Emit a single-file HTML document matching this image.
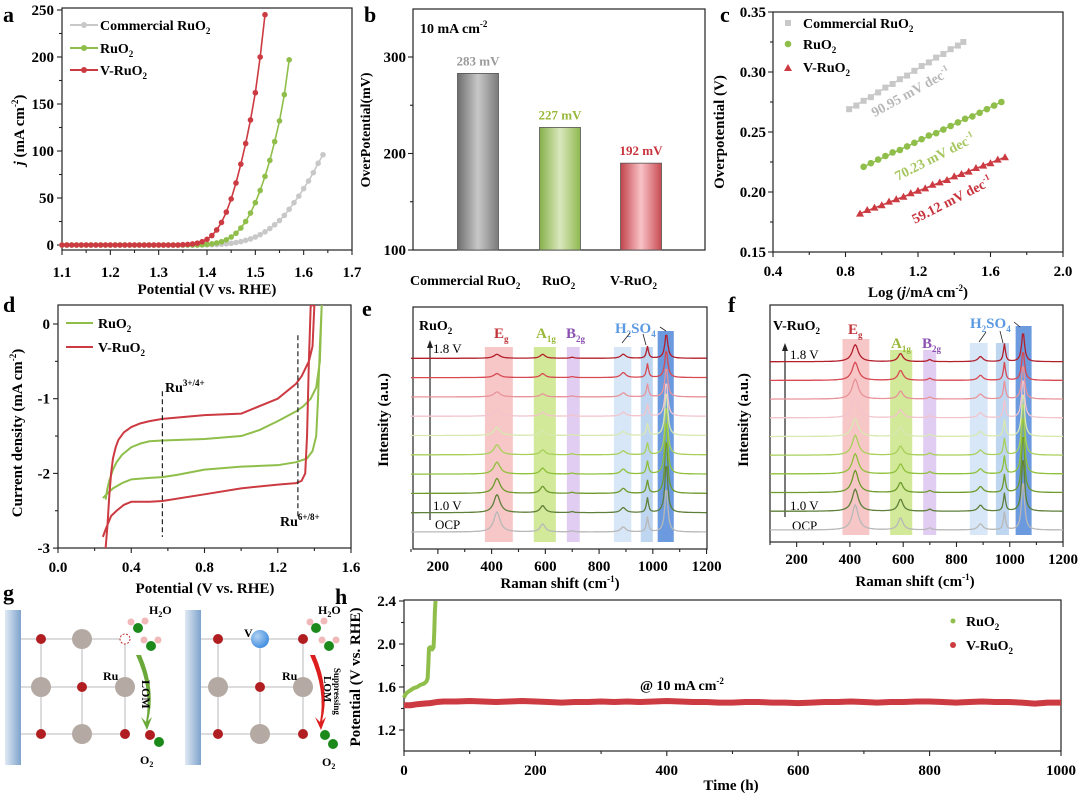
<!DOCTYPE html>
<html><head><meta charset="utf-8"><style>
html,body{margin:0;padding:0;background:#fff}
svg{display:block;font-family:"Liberation Serif",serif;font-weight:bold}
</style></head><body>
<svg id="fig" xmlns="http://www.w3.org/2000/svg" width="1080" height="797" viewBox="0 0 1080 797">
<defs>
<linearGradient id="gGrey" x1="0" x2="1"><stop offset="0" stop-color="#6e6e6e"/><stop offset="0.5" stop-color="#c8c8c8"/><stop offset="1" stop-color="#7a7a7a"/></linearGradient>
<linearGradient id="gGreen" x1="0" x2="1"><stop offset="0" stop-color="#86b04a"/><stop offset="0.5" stop-color="#d9e8bc"/><stop offset="1" stop-color="#8fb850"/></linearGradient>
<linearGradient id="gRed" x1="0" x2="1"><stop offset="0" stop-color="#c2434b"/><stop offset="0.5" stop-color="#f9c3c7"/><stop offset="1" stop-color="#c84a52"/></linearGradient>
<linearGradient id="gWall" x1="0" x2="1"><stop offset="0" stop-color="#dfe9f4"/><stop offset="1" stop-color="#7ea3cc"/></linearGradient>
<radialGradient id="gBall" cx="0.35" cy="0.35" r="0.7"><stop offset="0" stop-color="#fff" stop-opacity="0.6"/><stop offset="1" stop-color="#fff" stop-opacity="0"/></radialGradient>
</defs>

<text x="3" y="22" font-size="22">a</text>
<text x="364" y="22" font-size="22">b</text>
<text x="720" y="22" font-size="22">c</text>
<text x="3" y="312" font-size="22">d</text>
<text x="362" y="316" font-size="22">e</text>
<text x="728" y="312" font-size="22">f</text>
<text x="3" y="600" font-size="22">g</text>
<text x="335" y="604" font-size="22">h</text>

<g>
<rect x="62" y="8" width="290" height="242" fill="none" stroke="#222" stroke-width="1.2"/>
<text transform="translate(24,130) rotate(-90)" text-anchor="middle" font-size="15"><tspan font-style="italic">j</tspan> (mA cm<tspan font-size="9" dy="-6">-2</tspan><tspan dy="6">)</tspan></text>
<text x="207" y="294" text-anchor="middle" font-size="15">Potential (V vs. RHE)</text>
<g>
<line x1="70" y1="25" x2="98" y2="25" stroke="#c8c8c8" stroke-width="2"/><circle cx="84" cy="25" r="3" fill="#c8c8c8"/>
<text x="100" y="30" font-size="14">Commercial RuO<tspan font-size="9" dy="4">2</tspan></text>
<line x1="70" y1="48" x2="98" y2="48" stroke="#8fbe4a" stroke-width="2"/><circle cx="84" cy="48" r="3" fill="#8fbe4a"/>
<text x="100" y="53" font-size="14">RuO<tspan font-size="9" dy="4">2</tspan></text>
<line x1="70" y1="70" x2="98" y2="70" stroke="#cc3a42" stroke-width="2"/><circle cx="84" cy="70" r="3" fill="#cc3a42"/>
<text x="100" y="75" font-size="14">V-RuO<tspan font-size="9" dy="4">2</tspan></text>
</g>
<g id="aPlot"></g>
</g>

<g>
<rect x="413" y="9" width="292" height="241" fill="none" stroke="#222" stroke-width="1.2"/>
<text transform="translate(370,130) rotate(-90)" text-anchor="middle" font-size="14">OverPotential(mV)</text>
<text x="420" y="33" font-size="14">10 mA cm<tspan font-size="9" dy="-6">-2</tspan></text>
<g id="bPlot"></g>
</g>

<g>
<rect x="773" y="12" width="290" height="240" fill="none" stroke="#222" stroke-width="1.2"/>
<text transform="translate(724,132) rotate(-90)" text-anchor="middle" font-size="15">Overpotential (V)</text>
<text x="918" y="297" text-anchor="middle" font-size="15">Log (<tspan font-style="italic">j</tspan>/mA cm<tspan font-size="9" dy="-6">-2</tspan><tspan dy="6">)</tspan></text>
<g>
<rect x="785" y="20" width="6" height="6" fill="#c8c8c8"/>
<text x="803" y="28" font-size="14">Commercial RuO<tspan font-size="9" dy="4">2</tspan></text>
<circle cx="788" cy="44" r="3.3" fill="#8fbe4a"/>
<text x="803" y="49" font-size="14">RuO<tspan font-size="9" dy="4">2</tspan></text>
<path d="M784,71 L788,64 L792,71 Z" fill="#cc3a42"/>
<text x="803" y="72" font-size="14">V-RuO<tspan font-size="9" dy="4">2</tspan></text>
</g>
<text transform="translate(913,96) rotate(-29)" text-anchor="middle" font-size="14" fill="#b8b8b8">90.95 mV dec<tspan font-size="9" dy="-6">-1</tspan></text>
<text transform="translate(937,161) rotate(-27)" text-anchor="middle" font-size="14" fill="#a6c760">70.23 mV dec<tspan font-size="9" dy="-6">-1</tspan></text>
<text transform="translate(954,204) rotate(-27)" text-anchor="middle" font-size="14" fill="#c8343e">59.12 mV dec<tspan font-size="9" dy="-6">-1</tspan></text>
<g id="cPlot"></g>
</g>

<g>
<rect x="58" y="305" width="293" height="243" fill="none" stroke="#222" stroke-width="1.2"/>
<text transform="translate(22,433) rotate(-90)" text-anchor="middle" font-size="15">Current density (mA cm<tspan font-size="9" dy="-6">-2</tspan><tspan dy="6">)</tspan></text>
<text x="205" y="593" text-anchor="middle" font-size="15">Potential (V vs. RHE)</text>
<g>
<line x1="66" y1="323" x2="93" y2="323" stroke="#8fbe4a" stroke-width="2"/>
<text x="98" y="328" font-size="14">RuO<tspan font-size="9" dy="4">2</tspan></text>
<line x1="66" y1="347" x2="93" y2="347" stroke="#cc3a42" stroke-width="2"/>
<text x="98" y="352" font-size="14">V-RuO<tspan font-size="9" dy="4">2</tspan></text>
</g>
<text x="165" y="392" font-size="14">Ru<tspan font-size="9" dy="-6">3+/4+</tspan></text>
<text x="280" y="526" font-size="14">Ru<tspan font-size="9" dy="-6">6+/8+</tspan></text>
<g id="dPlot"></g>
</g>

<g>
<g id="eBands"></g>
<rect x="413" y="307" width="294" height="242" fill="none" stroke="#222" stroke-width="1.2"/>
<text transform="translate(388,420) rotate(-90)" text-anchor="middle" font-size="15">Intensity (a.u.)</text>
<text x="560" y="588" text-anchor="middle" font-size="15">Raman shift (cm<tspan font-size="9" dy="-6">-1</tspan><tspan dy="6">)</tspan></text>
<text x="419" y="330" font-size="14">RuO<tspan font-size="9" dy="4">2</tspan></text>
<text x="494" y="338" font-size="15" fill="#c0343a">E<tspan font-size="9" dy="4">g</tspan></text>
<text x="536" y="338" font-size="15" fill="#98b83a">A<tspan font-size="9" dy="4">1g</tspan></text>
<text x="566" y="338" font-size="15" fill="#8a4fb0">B<tspan font-size="9" dy="4">2g</tspan></text>
<text x="615" y="333" font-size="15" fill="#5b9ae0">H<tspan font-size="9" dy="4">2</tspan><tspan dy="-4">SO</tspan><tspan font-size="9" dy="4">4</tspan></text>
<g stroke="#222" stroke-width="0.8" fill="none"><path d="M622,343 L630,333"/><path d="M646,345 L643,334"/><path d="M666,331 L660,327"/></g>
<line x1="430" y1="520" x2="430" y2="344" stroke="#222" stroke-width="1.2"/><path d="M427,348 L430,340 L433,348 Z" fill="#222"/>
<text x="433" y="353" font-size="13" font-weight="normal">1.8 V</text>
<text x="433" y="510" font-size="13" font-weight="normal">1.0 V</text>
<text x="435" y="529" font-size="13" font-weight="normal">OCP</text>
<g id="ePlot"></g>
</g>

<g>
<g id="fBands"></g>
<rect x="770" y="305" width="293" height="237" fill="none" stroke="#222" stroke-width="1.2"/>
<text transform="translate(748,420) rotate(-90)" text-anchor="middle" font-size="15">Intensity (a.u.)</text>
<text x="915" y="586" text-anchor="middle" font-size="15">Raman shift (cm<tspan font-size="9" dy="-6">-1</tspan><tspan dy="6">)</tspan></text>
<text x="773" y="330" font-size="14">V-RuO<tspan font-size="9" dy="4">2</tspan></text>
<text x="848" y="334" font-size="15" fill="#c0343a">E<tspan font-size="9" dy="4">g</tspan></text>
<text x="891" y="348" font-size="15" fill="#98b83a">A<tspan font-size="9" dy="4">1g</tspan></text>
<text x="922" y="348" font-size="15" fill="#8a4fb0">B<tspan font-size="9" dy="4">2g</tspan></text>
<text x="970" y="328" font-size="15" fill="#5b9ae0">H<tspan font-size="9" dy="4">2</tspan><tspan dy="-4">SO</tspan><tspan font-size="9" dy="4">4</tspan></text>
<g stroke="#222" stroke-width="0.8" fill="none"><path d="M979,342 L986,332"/><path d="M1003,343 L1000,331"/><path d="M1020,327 L1014,322"/></g>
<line x1="785" y1="517" x2="785" y2="347" stroke="#222" stroke-width="1.2"/><path d="M782,351 L785,343 L788,351 Z" fill="#222"/>
<text x="790" y="359" font-size="13" font-weight="normal">1.8 V</text>
<text x="790" y="510" font-size="13" font-weight="normal">1.0 V</text>
<text x="792" y="530" font-size="13" font-weight="normal">OCP</text>
<g id="fPlot"></g>
</g>

<g>
<g>
<rect x="5" y="610" width="16" height="155" fill="url(#gWall)"/>
<g stroke="#c8c8cc" stroke-width="1.3"><line x1="21" y1="639" x2="125" y2="639"/><line x1="21" y1="687" x2="125" y2="687"/><line x1="21" y1="734" x2="125" y2="734"/><line x1="41" y1="639" x2="41" y2="734"/><line x1="82" y1="639" x2="82" y2="734"/><line x1="125" y1="639" x2="125" y2="734"/></g>
<circle cx="41" cy="639" r="5" fill="#b01e22"/><circle cx="82" cy="639" r="10" fill="#b5aaa3"/><circle cx="125" cy="639" r="5" fill="#fff" stroke="#c03030" stroke-dasharray="2,1.5"/>
<circle cx="41" cy="687" r="10" fill="#b5aaa3"/><circle cx="82" cy="687" r="5" fill="#b01e22"/><circle cx="125" cy="687" r="10" fill="#b5aaa3"/>
<circle cx="41" cy="734" r="5" fill="#b01e22"/><circle cx="82" cy="734" r="10" fill="#b5aaa3"/><circle cx="125" cy="734" r="5" fill="#b01e22"/>
<circle cx="131" cy="622" r="3.5" fill="#f0b8b8"/><circle cx="145" cy="621" r="3.5" fill="#f0b8b8"/><circle cx="138" cy="628" r="5" fill="#1b8a1b"/>
<circle cx="144" cy="640" r="3.5" fill="#f0b8b8"/><circle cx="158" cy="640" r="3.5" fill="#f0b8b8"/><circle cx="151" cy="646" r="5" fill="#1b8a1b"/>
<text x="149" y="614" font-size="12">H<tspan font-size="8" dy="3">2</tspan><tspan dy="-3">O</tspan></text>
<path d="M136,655 Q152,690 146,722 L141,717 L147,730 L152,717 L148,721 Q156,690 141,655 Z" fill="#6aa83a"/>
<text transform="translate(142,680) rotate(90)" font-size="12">LOM</text>
<text x="103" y="680" font-size="12">Ru</text>
<circle cx="150" cy="735" r="5" fill="#b01e22"/><circle cx="159" cy="742" r="5" fill="#1b8a1b"/>
<text x="140" y="764" font-size="12">O<tspan font-size="8" dy="3">2</tspan></text>
</g>
<g>
<rect x="185" y="610" width="16" height="155" fill="url(#gWall)"/>
<g stroke="#c8c8cc" stroke-width="1.3"><line x1="201" y1="639" x2="303" y2="639"/><line x1="201" y1="687" x2="303" y2="687"/><line x1="201" y1="734" x2="303" y2="734"/><line x1="218" y1="639" x2="218" y2="734"/><line x1="260" y1="639" x2="260" y2="734"/><line x1="303" y1="639" x2="303" y2="734"/></g>
<circle cx="218" cy="639" r="5" fill="#b01e22"/><circle cx="260" cy="639" r="9" fill="#3f8ee0"/><circle cx="260" cy="639" r="9" fill="url(#gBall)"/><circle cx="303" cy="639" r="5" fill="#b01e22"/>
<circle cx="218" cy="687" r="10" fill="#b5aaa3"/><circle cx="260" cy="687" r="5" fill="#b01e22"/><circle cx="303" cy="687" r="10" fill="#b5aaa3"/>
<circle cx="218" cy="734" r="5" fill="#b01e22"/><circle cx="260" cy="734" r="10" fill="#b5aaa3"/><circle cx="303" cy="734" r="5" fill="#b01e22"/>
<text x="244" y="637" font-size="12">V</text>
<circle cx="310" cy="622" r="3.5" fill="#f0b8b8"/><circle cx="324" cy="621" r="3.5" fill="#f0b8b8"/><circle cx="316" cy="628" r="5" fill="#1b8a1b"/>
<circle cx="322" cy="640" r="3.5" fill="#f0b8b8"/><circle cx="336" cy="640" r="3.5" fill="#f0b8b8"/><circle cx="329" cy="646" r="5" fill="#1b8a1b"/>
<text x="318" y="614" font-size="12">H<tspan font-size="8" dy="3">2</tspan><tspan dy="-3">O</tspan></text>
<path d="M310,655 Q326,690 320,722 L315,717 L321,730 L326,717 L322,721 Q330,690 315,655 Z" fill="#dd1e1e"/>
<text transform="translate(334,668) rotate(90)" font-size="9">Suppressing</text>
<text transform="translate(324,676) rotate(90)" font-size="11">LOM</text>
<text x="282" y="680" font-size="12">Ru</text>
<circle cx="325" cy="735" r="5" fill="#1b8a1b"/><circle cx="333" cy="744" r="5" fill="#1b8a1b"/>
<text x="322" y="766" font-size="12">O<tspan font-size="8" dy="3">2</tspan></text>
</g>
</g>

<g>
<rect x="404" y="600" width="657" height="151" fill="none" stroke="#222" stroke-width="1.2"/>
<text transform="translate(360,677) rotate(-90)" text-anchor="middle" font-size="15">Potential (V vs. RHE)</text>
<text x="731" y="790" text-anchor="middle" font-size="15">Time (h)</text>
<text x="640" y="690" font-size="14">@ 10 mA cm<tspan font-size="9" dy="-6">-2</tspan></text>
<g>
<circle cx="953" cy="621" r="2.5" fill="#8fbe4a"/>
<text x="966" y="626" font-size="14">RuO<tspan font-size="9" dy="4">2</tspan></text>
<circle cx="953" cy="645" r="3" fill="#cc3a42"/>
<text x="966" y="650" font-size="14">V-RuO<tspan font-size="9" dy="4">2</tspan></text>
</g>
<g id="hPlot"></g>
</g>
</svg>

<script>
const aPotential = [1.10,1.11,1.12,1.13,1.14,1.15,1.16,1.17,1.18,1.19,1.20,1.21,1.22,1.23,1.24,1.25,1.26,1.27,1.28,1.29,1.30,1.31,1.32,1.33,1.34,1.35,1.36,1.37,1.38,1.39,1.40,1.41,1.42,1.43,1.44,1.45,1.46,1.47,1.48,1.49,1.50,1.51,1.52,1.53,1.54,1.55,1.56,1.57,1.58,1.59,1.60,1.61,1.62,1.63,1.64];
const aCommercial = [0,0,0,0,0,0,0,0,0,0,0,0,0,0,0,0,0,0,0,0,0,0,0,0,0,0,0,0,0,0,0.1,0.3,0.5,0.8,1.2,1.8,2.6,3.6,5,6.5,8.5,11,14,17.5,21.5,26,31.5,38,45,52,60,68,77,87,96];
const aRuO2 = [0,0,0,0,0,0,0,0,0,0,0,0,0,0,0,0,0,0,0,0,0,0,0,0,0,0,0,0,0,0.3,0.7,1.3,2.2,3.5,5.5,8.5,12.5,18,25,34,45,58,73,90,110,132,160,197];
const aVRuO2 = [0,0,0,0,0,0,0,0,0,0,0,0,0,0,0,0,0,0,0,0,0,0,0,0,0,0.3,0.6,1.1,2,3.5,6,10,16,24,35,49,66,86,108,133,162,200,245];
const aXTicks = [1.1,1.2,1.3,1.4,1.5,1.6,1.7];
const aYTicks = [0,50,100,150,200,250];
const bCategories = ["Commercial RuO2","RuO2","V-RuO2"];
const bValues = [283,227,190];
const bLabels = ["283 mV","227 mV","192 mV"];
const bYTicks = [100,200,300];
const cCommX = [0.82,0.86,0.90,0.94,0.98,1.02,1.06,1.10,1.14,1.18,1.22,1.26,1.30,1.34,1.38,1.42,1.45];
const cCommY = [0.269,0.272,0.276,0.279,0.283,0.287,0.290,0.294,0.297,0.301,0.305,0.308,0.312,0.315,0.319,0.322,0.325];
const cRuX = [0.90,0.94,0.98,1.02,1.06,1.10,1.14,1.18,1.22,1.26,1.30,1.34,1.38,1.42,1.46,1.50,1.54,1.58,1.62,1.66];
const cRuY = [0.221,0.224,0.227,0.230,0.233,0.235,0.238,0.241,0.244,0.247,0.249,0.252,0.255,0.258,0.261,0.263,0.266,0.269,0.272,0.275];
const cVX = [0.88,0.92,0.96,1.00,1.04,1.08,1.12,1.16,1.20,1.24,1.28,1.32,1.36,1.40,1.44,1.48,1.52,1.56,1.60,1.64,1.68];
const cVY = [0.182,0.185,0.187,0.189,0.192,0.194,0.196,0.199,0.201,0.203,0.206,0.208,0.210,0.213,0.215,0.217,0.220,0.222,0.224,0.227,0.229];
const cXTicks = [0.4,0.8,1.2,1.6,2.0];
const cYTicks = [0.15,0.20,0.25,0.30,0.35];
const dRuX = [0.245,0.27,0.30,0.35,0.40,0.50,0.57,0.65,0.80,1.00,1.10,1.20,1.30,1.36,1.39,1.41,1.42,1.43,1.44,1.44,1.43,1.41,1.38,1.34,1.30,1.20,1.10,1.00,0.80,0.57,0.50,0.45,0.40,0.35,0.32,0.30,0.28,0.27,0.26];
const dRuY = [-2.33,-2.27,-2.2,-2.13,-2.08,-2.06,-2.05,-2.02,-1.95,-1.91,-1.9,-1.89,-1.85,-1.8,-1.7,-1.5,-1.0,-0.3,0.25,0.25,-0.5,-0.85,-1.0,-1.1,-1.17,-1.3,-1.42,-1.5,-1.54,-1.56,-1.57,-1.6,-1.65,-1.75,-1.85,-1.95,-2.1,-2.2,-2.35];
const dVX = [0.245,0.26,0.29,0.32,0.36,0.40,0.50,0.57,0.80,1.00,1.20,1.30,1.33,1.35,1.36,1.37,1.38,1.40,1.39,1.37,1.33,1.30,1.20,1.00,0.80,0.57,0.50,0.45,0.40,0.36,0.33,0.315,0.30,0.29,0.28,0.27,0.26];
const dVY = [-2.85,-2.75,-2.57,-2.5,-2.42,-2.38,-2.38,-2.37,-2.28,-2.2,-2.15,-2.13,-2.1,-2.0,-1.5,-0.5,0.25,0.25,-0.3,-0.5,-0.7,-0.8,-1.0,-1.2,-1.22,-1.27,-1.3,-1.33,-1.38,-1.45,-1.55,-1.65,-1.8,-2.0,-2.3,-2.7,-3.0];
const dXTicks = [0.0,0.4,0.8,1.2,1.6];
const dYTicks = [0,-1,-2,-3];
const ramanTraces = ["OCP","1.0 V","1.1 V","1.2 V","1.3 V","1.4 V","1.5 V","1.6 V","1.7 V","1.8 V"];
const ramanPeaks = [420,590,700,890,980,1050];
const eEg   = [20,18,15,12,10,8,6,5,4,4];
const eA1g  = [8,7,7,6,5,5,4,3,4,4];
const eB2g  = [1,1,1,1,1,1,1,1,1,1];
const eH890 = [5,5,5,5,4,4,4,4,5,4];
const eH980 = [15,15,13,13,12,12,12,13,14,12];
const eH1050= [45,50,55,55,50,45,35,30,28,25];
const fEg   = [25,22,22,20,20,18,20,20,18,17];
const fA1g  = [12,12,10,10,9,10,8,8,10,8];
const fB2g  = [2,2,2,2,2,2,2,2,2,2];
const fH890 = [6,6,6,5,5,5,5,5,5,5];
const fH980 = [18,18,18,18,17,17,18,18,18,18];
const fH1050= [50,55,60,60,55,45,40,35,30,30];
const ramanXTicks = [200,400,600,800,1000,1200];
const hRuT = [0,2,5,10,15,20,25,30,34,36,37,38,40,43,45,46,47,48];
const hRuV = [1.50,1.53,1.55,1.57,1.59,1.60,1.62,1.63,1.65,1.68,1.80,1.96,1.97,1.95,1.97,2.10,2.30,2.40];
const hVT = [0,10,20,30,40,50,60,80,100,120,140,160,180,200,220,240,260,280,300,320,340,360,380,400,420,440,460,480,500,520,540,560,580,600,620,640,660,680,700,720,740,760,780,800,820,840,860,880,900,920,940,960,980,1000];
const hVV = [1.43,1.43,1.44,1.445,1.45,1.46,1.465,1.465,1.47,1.465,1.46,1.465,1.47,1.465,1.46,1.455,1.46,1.46,1.465,1.46,1.465,1.46,1.465,1.47,1.465,1.46,1.46,1.455,1.455,1.46,1.46,1.455,1.455,1.45,1.455,1.46,1.46,1.465,1.46,1.455,1.46,1.46,1.465,1.465,1.46,1.455,1.46,1.465,1.46,1.46,1.455,1.445,1.455,1.455];
const hXTicks = [0,200,400,600,800,1000];
const hYTicks = [1.2,1.6,2.0,2.4];

const NS = "http://www.w3.org/2000/svg";
function mk(tag, parent, attrs){ const e=document.createElementNS(NS,tag); for(const k in attrs) e.setAttribute(k,attrs[k]); parent.appendChild(e); return e; }
function pathFrom(xs, ys, sx, sy){ return xs.map((v,i)=>(i?"L":"M")+sx(v).toFixed(2)+","+sy(ys[i]).toFixed(2)).join(" "); }
function tickLabel(parent, x, y, txt, anchor, name){
  const t = mk("text", parent, {x:x, y:y, "text-anchor":anchor, "font-size":15});
  
  
  t.textContent = txt; return t;
}
function tickLine(parent, x1,y1,x2,y2){ const l=mk("line",parent,{x1:x1,y1:y1,x2:x2,y2:y2,stroke:"#222","stroke-width":1.1});
  
   }

(function(){
  const g = document.getElementById("aPlot");
  const ax = v => 62 + (v-1.1)/0.6*290, ay = v => 245 - v*235/250;
  aXTicks.forEach((v,i)=>{ tickLine(g, ax(v),250,ax(v),255); tickLabel(g, ax(v), 277, v.toFixed(1), "middle", "x-tick-label-a"); if(i<aXTicks.length-1) tickLine(g, ax(v+0.05),250,ax(v+0.05),253); });
  aYTicks.forEach((v,i)=>{ tickLine(g, 57,ay(v),62,ay(v)); tickLabel(g, 54, ay(v)+5, String(v), "end", "y-tick-label-a"); if(i<aYTicks.length-1) tickLine(g, 59,ay(v+25),62,ay(v+25)); });
  const series = [[aCommercial,"#c8c8c8","series-commercial-ruo2"],[aRuO2,"#8fbe4a","series-ruo2"],[aVRuO2,"#cc3a42","series-v-ruo2"]];
  series.forEach(([ys,col,name])=>{
    const xs = aPotential.slice(0, ys.length);
    const p = mk("path", g, {d:pathFrom(xs,ys,ax,ay), fill:"none", stroke:col, "stroke-width":1.6});
    
    
    xs.forEach((x,i)=>{ const c=mk("circle",g,{cx:ax(x),cy:ay(ys[i]),r:2.8,fill:col});
      
       });
  });
})();

(function(){
  const g = document.getElementById("bPlot");
  const by = v => 250 - (v-100)*0.965;
  const centers = [478,560,641];
  const fills = ["url(#gGrey)","url(#gGreen)","url(#gRed)"];
  const labCol = ["#9a9a9a","#98b83a","#c8343e"];
  bYTicks.forEach((v,i)=>{ tickLine(g,408,by(v),413,by(v)); tickLabel(g,406,by(v)+5,String(v),"end","y-tick-label-b"); if(i<bYTicks.length-1) tickLine(g,410,by(v+50),413,by(v+50)); });
  bValues.forEach((v,i)=>{
    const r = mk("rect", g, {x:centers[i]-20.5, y:by(v), width:41, height:250-by(v), fill:fills[i], stroke:"#555", "stroke-width":0.8});
    
    
    const t = mk("text", g, {x:centers[i], y:by(v)-8, "text-anchor":"middle", "font-size":13, fill:labCol[i]});
    
    
    t.textContent = bLabels[i];
  });
  const cats = [[410,"Commercial RuO"],[542,"RuO"],[610,"V-RuO"]];
  cats.forEach(([x,txt],i)=>{
    const t = mk("text", g, {x:x, y:285, "font-size":14});
    
    
    t.textContent = txt;
    const s = mk("tspan", t, {"font-size":9, dy:4}); s.textContent="2";
  });
})();

(function(){
  const g = document.getElementById("cPlot");
  const cx = v => 773 + (v-0.4)/1.6*290, cy = v => 12 + (0.35-v)/0.2*240;
  cXTicks.forEach((v,i)=>{ tickLine(g,cx(v),252,cx(v),257); tickLabel(g,cx(v),276,v.toFixed(1),"middle","x-tick-label-c"); if(i<cXTicks.length-1) tickLine(g,cx(v+0.2),252,cx(v+0.2),255); });
  cYTicks.forEach((v,i)=>{ tickLine(g,768,cy(v),773,cy(v)); tickLabel(g,766,cy(v)+5,v.toFixed(2),"end","y-tick-label-c"); if(i<cYTicks.length-1) tickLine(g,770,cy(v+0.025),773,cy(v+0.025)); });
  const sets = [[cCommX,cCommY,"#c8c8c8","sq","tafel-commercial"],[cRuX,cRuY,"#8fbe4a","ci","tafel-ruo2"],[cVX,cVY,"#cc3a42","tr","tafel-v-ruo2"]];
  sets.forEach(([xs,ys,col,sh,name])=>{
    const p = mk("path", g, {d:pathFrom([xs[0],xs[xs.length-1]],[ys[0],ys[ys.length-1]],cx,cy), stroke:col, "stroke-width":1.5, fill:"none"});
    
    
    xs.forEach((x,i)=>{
      const X=cx(x), Y=cy(ys[i]); let m;
      if(sh==="sq") m = mk("rect",g,{x:X-3,y:Y-3,width:6,height:6,fill:col});
      else if(sh==="ci") m = mk("circle",g,{cx:X,cy:Y,r:3.3,fill:col});
      else m = mk("path",g,{d:`M${X-4},${Y+3} L${X},${Y-4} L${X+4},${Y+3} Z`,fill:col});
      
      
    });
  });
})();

(function(){
  const g = document.getElementById("dPlot");
  const dx = v => 58 + v/1.6*293, dy = v => 324 - v*74.7;
  dXTicks.forEach((v,i)=>{ tickLine(g,dx(v),548,dx(v),553); tickLabel(g,dx(v),572,v.toFixed(1),"middle","x-tick-label-d"); if(i<dXTicks.length-1) tickLine(g,dx(v+0.2),548,dx(v+0.2),551); });
  dYTicks.forEach((v,i)=>{ tickLine(g,53,dy(v),58,dy(v)); tickLabel(g,50,dy(v)+5,String(v),"end","y-tick-label-d"); if(i<dYTicks.length-1) tickLine(g,55,dy(v-0.5),58,dy(v-0.5)); });
  const c = mk("g", g, {}); c.setAttribute("clip-path","url(#clipD)");
  const cp = mk("clipPath", document.querySelector("defs"), {id:"clipD"}); mk("rect", cp, {x:58,y:305,width:293,height:243});
  [[dRuX,dRuY,"#8fbe4a","cv-ruo2"],[dVX,dVY,"#cc3a42","cv-v-ruo2"]].forEach(([xs,ys,col,name])=>{
    const p = mk("path", c, {d:pathFrom(xs,ys,dx,dy), fill:"none", stroke:col, "stroke-width":2, "stroke-linejoin":"round"});
    
    
  });
  [[0.57,-0.9,-2.85],[1.31,-0.15,-2.6]].forEach(([x,y1,y2])=>{
    const l = mk("line", g, {x1:dx(x),x2:dx(x),y1:dy(y1),y2:dy(y2),stroke:"#222","stroke-width":1.2,"stroke-dasharray":"5,3"});
    
    
  });
})();

function drawRaman(plotId, bandsId, x0, scale, base0, spacing, amps, bands, prefix){
  const g = document.getElementById(plotId), gb = document.getElementById(bandsId);
  const sx = v => x0 + (v-100)*scale;
  bands.forEach(([a,b,top,bot,col,op])=>{
    const r = mk("rect", gb, {x:sx(a), y:top, width:sx(b)-sx(a), height:bot-top, fill:col, opacity:op});
    
    
  });
  ramanXTicks.forEach((v,i)=>{ tickLine(g,sx(v),bands[0][3]+7,sx(v),bands[0][3]+12); tickLabel(g,sx(v),bands[0][3]+29,String(v),"middle","x-tick-label-"+prefix); tickLine(g,sx(v-100),bands[0][3]+7,sx(v-100),bands[0][3]+10); });
  const cols = ['#b8b8b8','#5f7f3a','#6f9a2c','#8fc03a','#a9d05a','#d8e8b0','#f2c4cc','#e8939a','#d84a52','#b3202c'];
  const widths = [28,22,16,22,9,13];
  ramanTraces.forEach((nm,ti)=>{
    const base = base0 - ti*spacing;
    const a = amps.map(arr=>arr[ti]);
    let d = "";
    for(let s=100; s<=1200; s+=4){
      let I = 0;
      ramanPeaks.forEach((p,k)=>{ const w=widths[k]/2; I += a[k]*w*w/((s-p)*(s-p)+w*w); });
      d += (s===100?"M":"L") + sx(s).toFixed(1) + "," + (base - I).toFixed(1);
    }
    const p = mk("path", g, {d:d, fill:"none", stroke:cols[ti], "stroke-width":1.3});
    
    
  });
}
drawRaman("ePlot","eBands",411,0.2687,532,19.3,[eEg,eA1g,eB2g,eH890,eH980,eH1050],
 [[375,479,347,542,"#f4b4b4",0.75],[557,639,347,542,"#c6e480",0.8],[680,728,347,542,"#dcc4ee",0.85],[855,920,347,542,"#d4e4f6",0.9],[955,1000,347,542,"#b8d2f0",0.9],[1018,1078,331,542,"#5b8fdc",0.9]],"e");
drawRaman("fPlot","fBands",770,0.2664,530,18.7,[fEg,fA1g,fB2g,fH890,fH980,fH1050],
 [[372,473,339,535,"#f4b4b4",0.75],[551,634,350,535,"#c6e480",0.8],[675,724,350,535,"#dcc4ee",0.85],[850,917,343,535,"#d4e4f6",0.9],[948,997,343,535,"#b8d2f0",0.9],[1022,1082,326,535,"#5b8fdc",0.9]],"f");

(function(){
  const g = document.getElementById("hPlot");
  const hx = v => 404 + v*0.657, hy = v => 601 + (2.4-v)*107.5;
  hXTicks.forEach((v,i)=>{ tickLine(g,hx(v),751,hx(v),756); tickLabel(g,hx(v),775,String(v),"middle","x-tick-label-h"); if(i<hXTicks.length-1) tickLine(g,hx(v+100),751,hx(v+100),754); });
  hYTicks.forEach((v,i)=>{ tickLine(g,399,hy(v),404,hy(v)); tickLabel(g,396,hy(v)+5,v.toFixed(1),"end","y-tick-label-h"); if(i<hYTicks.length-1) tickLine(g,401,hy(v+0.2),404,hy(v+0.2)); });
  const r = mk("path", g, {d:pathFrom(hVT,hVV,hx,hy), fill:"none", stroke:"#cc3a42", "stroke-width":6, "stroke-linejoin":"round"});
  
  
  const p = mk("path", g, {d:pathFrom(hRuT,hRuV,hx,hy), fill:"none", stroke:"#8fbe4a", "stroke-width":4, "stroke-linejoin":"round"});
  
  
})();
</script>
</body></html>
